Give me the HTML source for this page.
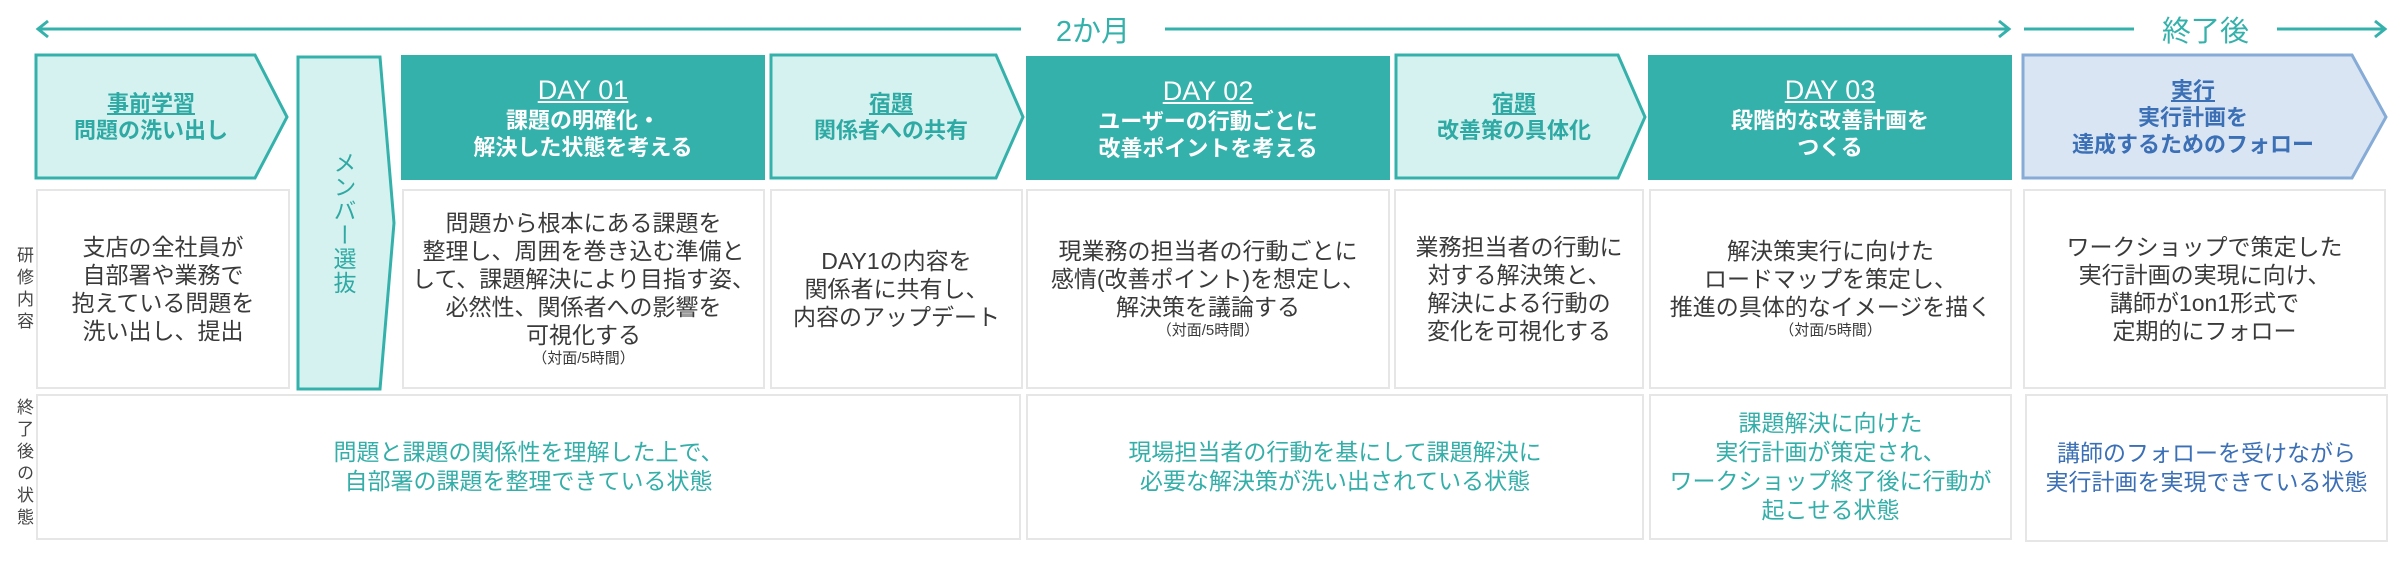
<!DOCTYPE html>
<html><head><meta charset="utf-8"><style>
body{margin:0;width:2400px;height:563px;background:#fff;position:relative;overflow:hidden;font-family:"Liberation Sans","Noto Sans CJK JP",sans-serif;}
.t{position:absolute;display:flex;flex-direction:column;align-items:center;justify-content:center;text-align:center;}
.cell{position:absolute;border:2px solid #e6e6e6;box-sizing:border-box;}
.g{color:#3a3a3a;font-size:23px;line-height:28px;}
.s{font-size:15px;line-height:20px;}
.tl{color:#33aea8;font-size:23px;line-height:29px;}
.hw{color:#fff;font-size:22px;line-height:27px;font-weight:bold;}
.hl{color:#2ea9a3;font-size:22px;line-height:27px;font-weight:bold;}
.u{text-decoration:underline;}
.d{font-size:27px;line-height:33px;font-weight:normal;}
.v{position:absolute;writing-mode:vertical-rl;color:#444;font-size:17px;letter-spacing:5px;}
</style></head><body>
<svg width="2400" height="563" style="position:absolute;left:0;top:0">
<g stroke="#35b1ab" stroke-width="3" fill="none">
<line x1="38" y1="29" x2="1021" y2="29"/><line x1="1165" y1="29" x2="2009" y2="29"/>
<polyline points="48,21 38,29 48,37"/><polyline points="1999,21 2009,29 1999,37"/>
<line x1="2024" y1="29" x2="2134" y2="29"/><line x1="2277" y1="29" x2="2385" y2="29"/>
<polyline points="2375,21 2385,29 2375,37"/>
</g>
<g fill="#d6f2f0" stroke="#35b1ab" stroke-width="3">
<polygon points="36,55 255,55 287,117 255,178 36,178"/>
<polygon points="298,57 380,57 394,223 380,389 298,389"/>
<polygon points="771,55 996,55 1023,117 996,178 771,178"/>
<polygon points="1396,55 1618,55 1645,117 1618,178 1396,178"/>
</g>
<polygon points="2023,55 2352,55 2386,117 2352,178 2023,178" fill="#d9e5f3" stroke="#86abd6" stroke-width="3"/>
<g fill="#35b1ab">
<rect x="401" y="55" width="364" height="125"/>
<rect x="1026" y="56" width="364" height="124"/>
<rect x="1648" y="55" width="364" height="125"/>
</g>
</svg>
<div class="t" style="left:1021px;width:144px;top:10px;height:38px;color:#35b1ab;font-size:29px">2か月</div>
<div class="t" style="left:2134px;width:143px;top:10px;height:38px;color:#35b1ab;font-size:29px">終了後</div>

<div class="t hl" style="left:36px;width:230px;top:55px;height:124px"><span class="u">事前学習</span><span>問題の洗い出し</span></div>
<div class="t" style="left:298px;width:90px;top:57px;height:332px;color:#2ea9a3;font-size:23px;writing-mode:vertical-rl;letter-spacing:1px">メンバー選抜</div>
<div class="t hw" style="left:401px;width:364px;top:55px;height:125px"><span class="u d">DAY 01</span><span>課題の明確化・</span><span>解決した状態を考える</span></div>
<div class="t hl" style="left:771px;width:240px;top:55px;height:124px"><span class="u">宿題</span><span>関係者への共有</span></div>
<div class="t hw" style="left:1026px;width:364px;top:56px;height:124px"><span class="u d">DAY 02</span><span>ユーザーの行動ごとに</span><span>改善ポイントを考える</span></div>
<div class="t hl" style="left:1396px;width:236px;top:55px;height:124px"><span class="u">宿題</span><span>改善策の具体化</span></div>
<div class="t hw" style="left:1648px;width:364px;top:55px;height:125px"><span class="u d">DAY 03</span><span>段階的な改善計画を</span><span>つくる</span></div>
<div class="t hl" style="left:2023px;width:340px;top:55px;height:124px;color:#3b6fb6"><span class="u">実行</span><span>実行計画を</span><span>達成するためのフォロー</span></div>

<div class="v" style="left:11px;top:246px">研修内容</div>
<div class="v" style="left:11px;top:398px">終了後の状態</div>

<div class="cell t g" style="left:36px;top:189px;width:254px;height:200px">支店の全社員が<br>自部署や業務で<br>抱えている問題を<br>洗い出し、提出</div>
<div class="cell t g" style="left:402px;top:189px;width:363px;height:200px"><div>問題から根本にある課題を<br>整理し、周囲を巻き込む準備と<br>して、課題解決により目指す姿、<br>必然性、関係者への影響を<br>可視化する</div><div class="s">（対面/5時間）</div></div>
<div class="cell t g" style="left:770px;top:189px;width:253px;height:200px">DAY1の内容を<br>関係者に共有し、<br>内容のアップデート</div>
<div class="cell t g" style="left:1026px;top:189px;width:364px;height:200px"><div>現業務の担当者の行動ごとに<br>感情(改善ポイント)を想定し、<br>解決策を議論する</div><div class="s">（対面/5時間）</div></div>
<div class="cell t g" style="left:1394px;top:189px;width:250px;height:200px">業務担当者の行動に<br>対する解決策と、<br>解決による行動の<br>変化を可視化する</div>
<div class="cell t g" style="left:1649px;top:189px;width:363px;height:200px"><div>解決策実行に向けた<br>ロードマップを策定し、<br>推進の具体的なイメージを描く</div><div class="s">（対面/5時間）</div></div>
<div class="cell t g" style="left:2023px;top:189px;width:363px;height:200px">ワークショップで策定した<br>実行計画の実現に向け、<br>講師が1on1形式で<br>定期的にフォロー</div>

<div class="cell t tl" style="left:36px;top:394px;width:985px;height:146px">問題と課題の関係性を理解した上で、<br>自部署の課題を整理できている状態</div>
<div class="cell t tl" style="left:1026px;top:394px;width:618px;height:146px">現場担当者の行動を基にして課題解決に<br>必要な解決策が洗い出されている状態</div>
<div class="cell t tl" style="left:1649px;top:394px;width:363px;height:146px">課題解決に向けた<br>実行計画が策定され、<br>ワークショップ終了後に行動が<br>起こせる状態</div>
<div class="cell t tl" style="left:2025px;top:394px;width:363px;height:148px;color:#3b6fb6">講師のフォローを受けながら<br>実行計画を実現できている状態</div>
</body></html>
